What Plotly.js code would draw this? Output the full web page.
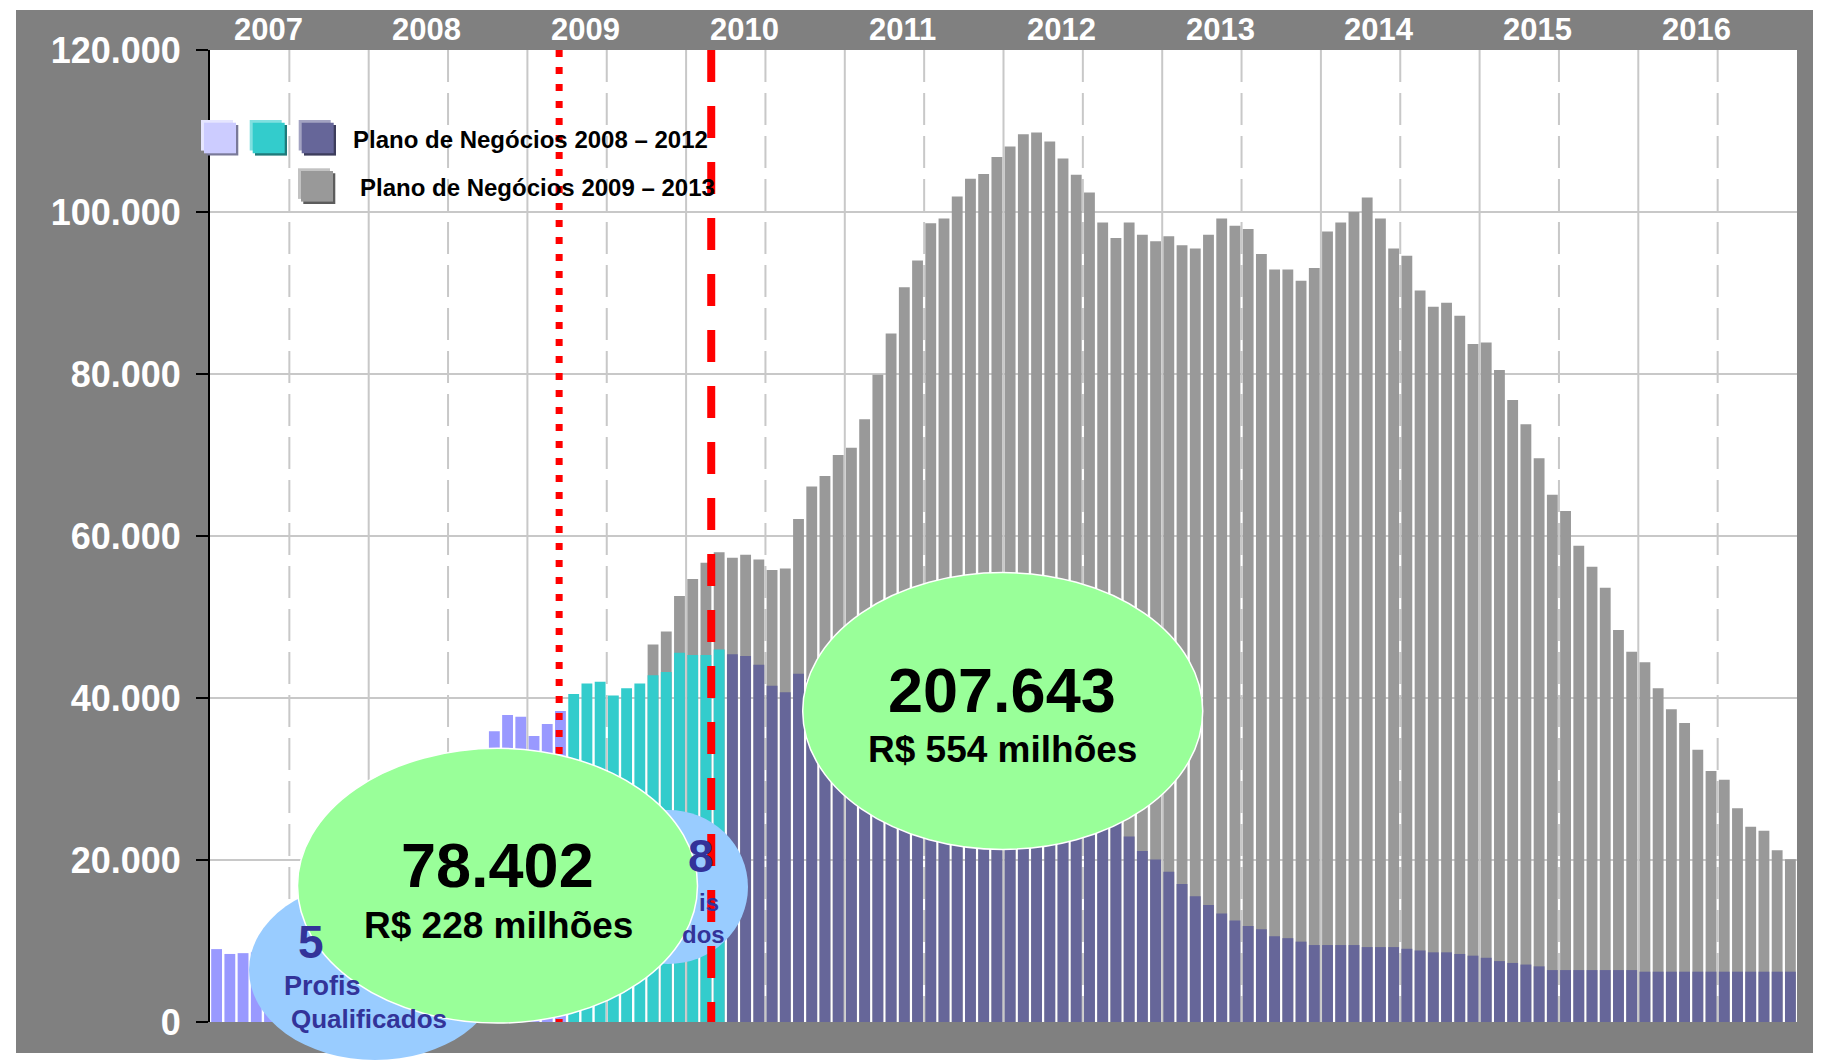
<!DOCTYPE html>
<html><head><meta charset="utf-8">
<script src="https://cdn.plot.ly/plotly-3.0.1.min.js"></script>
<style>
html,body{margin:0;padding:0;background:#ffffff;width:1821px;height:1064px;overflow:hidden}
#chart{position:absolute;left:0;top:0;width:1821px;height:1064px}
</style>
</head><body><div id="chart"></div>
<script>
// ---------- data ----------
const years = ['2007','2008','2009','2010','2011','2012','2013','2014','2015','2016'];
const months = [];
years.forEach(function (y) { for (let m = 1; m <= 12; m++) months.push(y + '-' + String(m).padStart(2, '0')); });

const yTickVals = [0, 20000, 40000, 60000, 80000, 100000, 120000];
const yTickText = ['0', '20.000', '40.000', '60.000', '80.000', '100.000', '120.000'];

// Plano de Negócios 2008-2012 (realizado até 2008) - months 0..26
const plan0812Early = [9000, 8400, 8500, 8600, 8700, 9200, 10000, 11000, 12000, 13500, 15000, 16500,
  18000, 19500, 21000, 22500, 24000, 25500, 27000, 29000, 31500, 35900, 37900, 37700, 35300, 36800, 38400];
// Plano de Negócios 2008-2012 (2009) - months 27..38
const plan0812Mid = [40500, 41800, 42000, 40300, 41200, 41800, 42800, 43200, 45600, 45300, 45300, 46000];
// Plano de Negócios 2008-2012 (2010 em diante) - months 39..119
const plan0812Late = [45400, 45200, 44100, 41500, 40700, 43000,
  42200, 41300, 40100, 39400, 38200, 37600, 36500, 35900, 35100, 34000, 33600, 32500,
  31900, 31200, 30100, 29700, 28900, 28500, 27700, 27300, 26600, 26200, 25700, 25300,
  22900, 21100, 20060, 18540, 17040, 15520, 14450, 13400, 12520, 11860, 11450, 10580,
  10350, 9920, 9500, 9500, 9500, 9500, 9250, 9250, 9250, 9040, 8830, 8600,
  8600, 8400, 8190, 7930, 7520, 7290, 7090, 6870, 6410, 6410, 6410, 6410,
  6410, 6410, 6410, 6210, 6210, 6210, 6210, 6210, 6210, 6210, 6210, 6210, 6210, 6210, 6210];
// Plano de Negócios 2009-2013 - months 33..119
const plan0913 = [46600, 48200, 52600, 54700, 56700, 58000, 57300, 57700, 57100, 55800, 56000, 62100,
  66100, 67400, 70000, 70900, 74400, 79900, 85000, 90700, 94000, 98600, 99200, 101900,
  104100, 104700, 106800, 108100, 109600, 109800, 108700, 106600, 104600, 102400, 98700, 96800,
  98700, 97200, 96400, 97000, 95900, 95500, 97200, 99200, 98300, 97900, 94800, 92900,
  92900, 91500, 93100, 97600, 98700, 100000, 101800, 99200, 95500, 94600, 90300, 88300,
  88800, 87200, 83700, 83900, 80500, 76800, 73800, 69600, 65100, 63100, 58800, 56200,
  53600, 48400, 45700, 44400, 41200, 38600, 36900, 33600, 31000, 29900, 26400, 24100,
  23600, 21200, 20100];

const legendLabels = ['Plano de Negócios 2008 – 2012', 'Plano de Negócios 2009 – 2013'];
const bubbleMain = [{num: '78.402', money: 'R$ 228 milhões'}, {num: '207.643', money: 'R$ 554 milhões'}];

// ---------- geometry helpers (page pixels -> paper) ----------
const W = 1821, H = 1064;
const PL = 210, PR = 1797, PT = 50, PB = 1022;
function px(x) { return (x - PL) / (PR - PL); }
function py(y) { return (PB - y) / (PB - PT); }

const cLav = '#9999ff', cTeal = '#33cccc', cDark = '#666699', cGray = '#999999';
const FONT = 'Liberation Sans, Arial, sans-serif';

const traces = [
  {type: 'bar', x: months.slice(33), y: plan0913, marker: {color: cGray, line: {width: 0}}, opacity: 1, hoverinfo: 'skip'},
  {type: 'bar', x: months.slice(0, 27), y: plan0812Early, marker: {color: cLav, line: {width: 0}}, opacity: 1, hoverinfo: 'skip'},
  {type: 'bar', x: months.slice(27, 39), y: plan0812Mid, marker: {color: cTeal, line: {width: 0}}, opacity: 1, hoverinfo: 'skip'},
  {type: 'bar', x: months.slice(39), y: plan0812Late, marker: {color: cDark, line: {width: 0}}, opacity: 1, hoverinfo: 'skip'}
];

const shapes = [];
// gray frame around the plot area
function frameRect(x0, y0, x1, y1) {
  shapes.push({type: 'rect', xref: 'paper', yref: 'paper', x0: px(x0), x1: px(x1), y0: py(y1), y1: py(y0),
    fillcolor: '#808080', line: {width: 0}, layer: 'below'});
}
frameRect(16, 10, 1813, PT);
frameRect(16, 10, PL, 1053);
frameRect(PR, 10, 1813, 1053);
frameRect(16, PB, 1813, 1053);
// vertical grid: solid at year boundaries, dashed at mid-year
years.slice(1).forEach(function (_, i) {
  shapes.push({type: 'line', xref: 'x', yref: 'paper', x0: 11.5 + 12 * i, x1: 11.5 + 12 * i, y0: 1, y1: 0,
    line: {color: '#c8c8c8', width: 2}, layer: 'below'});
});
years.forEach(function (_, i) {
  shapes.push({type: 'line', xref: 'x', yref: 'paper', x0: 5.5 + 12 * i, x1: 5.5 + 12 * i, y0: 1, y1: 0,
    line: {color: '#c8c8c8', width: 2, dash: '32px,11px'}, layer: 'below'});
});
function ell(cx, cy, rx, ry, fill, lw) {
  return {type: 'circle', xref: 'paper', yref: 'paper', x0: px(cx - rx), x1: px(cx + rx), y0: py(cy + ry), y1: py(cy - ry),
    fillcolor: fill, line: {color: 'white', width: lw}, layer: 'above'};
}
// blue bubbles
shapes.push(ell(375, 970, 126, 90, '#99ccff', 0));
shapes.push(ell(668, 887, 80, 77, '#99ccff', 0));
// red reference lines
const cutDotted = 25.9, cutDashed = 37.4;
shapes.push({type: 'line', xref: 'x', yref: 'paper', x0: cutDotted, x1: cutDotted, y0: 1, y1: 0,
  line: {color: '#ff0000', width: 7, dash: '7px,10px'}, layer: 'above'});
shapes.push({type: 'line', xref: 'x', yref: 'paper', x0: cutDashed, x1: cutDashed, y0: 1, y1: 0,
  line: {color: '#ff0000', width: 8, dash: '32px,24px'}, layer: 'above'});
// green bubbles
shapes.push(ell(497.5, 885.7, 200, 137.4, '#99ff99', 1.5));
shapes.push(ell(1002.7, 711, 200, 138.4, '#99ff99', 1.5));
// legend squares
function sq(x, y, main, light, shadow) {
  const s = 32, h = 30.6;
  [[x - 3, y - 2.7, light], [x + 2.3, y + 2.3, shadow], [x, y, main]].forEach(function (r) {
    shapes.push({type: 'rect', xref: 'paper', yref: 'paper', x0: px(r[0]), x1: px(r[0] + s), y0: py(r[1] + h), y1: py(r[1]),
      fillcolor: r[2], line: {width: 0}, layer: 'above'});
  });
}
sq(204, 122.7, '#ccccff', '#e6e6ff', '#7a7a99');
sq(252.7, 122.7, cTeal, '#80e0e0', '#1f7a7a');
sq(301.7, 122.7, cDark, '#a3a3c2', '#3d3d5c');
sq(301, 171, cGray, '#c2c2c2', '#5c5c5c');

const annotations = [];
years.forEach(function (y, i) {
  annotations.push({xref: 'x', yref: 'paper', x: 3.9 + 12 * i, y: py(29.7), text: y, showarrow: false,
    xanchor: 'center', yanchor: 'middle', font: {family: FONT, size: 31, color: 'white', weight: 'bold'}});
});
annotations.push({xref: 'paper', yref: 'paper', x: px(351), y: py(140), text: legendLabels[0], showarrow: false,
  xanchor: 'left', yanchor: 'middle', font: {family: FONT, size: 24, color: 'black', weight: 'bold'}});
annotations.push({xref: 'paper', yref: 'paper', x: px(358), y: py(188), text: legendLabels[1], showarrow: false,
  xanchor: 'left', yanchor: 'middle', font: {family: FONT, size: 24, color: 'black', weight: 'bold'}});
function txt(x, y, t, size, color, anchor) {
  annotations.push({xref: 'paper', yref: 'paper', x: px(x), y: py(y), text: t, showarrow: false,
    xanchor: anchor || 'center', yanchor: 'middle', font: {family: FONT, size: size, color: color, weight: 'bold'}});
}
// blue bubble texts (visible parts)
const cBlueTxt = '#333399';
txt(296, 942, '5', 46, cBlueTxt, 'left');
txt(282, 986, 'Profis', 27, cBlueTxt, 'left');
txt(369, 1019, 'Qualificados', 26, cBlueTxt);
txt(716, 856, '8', 46, cBlueTxt, 'right');
txt(721, 902.6, 'is', 24, cBlueTxt, 'right');
txt(727, 934.6, 'dos', 24, cBlueTxt, 'right');
// green bubble texts
txt(497, 865, bubbleMain[0].num, 63, 'black');
txt(498.5, 925, bubbleMain[0].money, 37, 'black');
txt(1002, 690, bubbleMain[1].num, 63, 'black');
txt(1002.7, 749, bubbleMain[1].money, 37, 'black');

const layout = {
  width: W, height: H,
  margin: {l: PL, r: W - PR, t: PT, b: H - PB, pad: 0},
  paper_bgcolor: '#ffffff', plot_bgcolor: '#ffffff',
  barmode: 'overlay', bargap: 0.18, showlegend: false,
  xaxis: {type: 'category', categoryorder: 'array', categoryarray: months, range: [-0.5, 119.5],
    showgrid: false, showticklabels: false, ticks: '', zeroline: false, showline: false, fixedrange: true},
  yaxis: {range: [0, 120000], tickvals: yTickVals, ticktext: yTickText, showgrid: true, gridcolor: '#c8c8c8', gridwidth: 2,
    ticks: 'outside', ticklen: 12, tickwidth: 2, tickcolor: 'black', showline: true, linecolor: 'black', linewidth: 2,
    zeroline: false, ticklabelstandoff: 8, fixedrange: true,
    tickfont: {family: FONT, size: 36, color: 'white', weight: 'bold'}},
  shapes: shapes, annotations: annotations
};
Plotly.newPlot('chart', traces, layout, {staticPlot: true, displayModeBar: false});
</script></body></html>
